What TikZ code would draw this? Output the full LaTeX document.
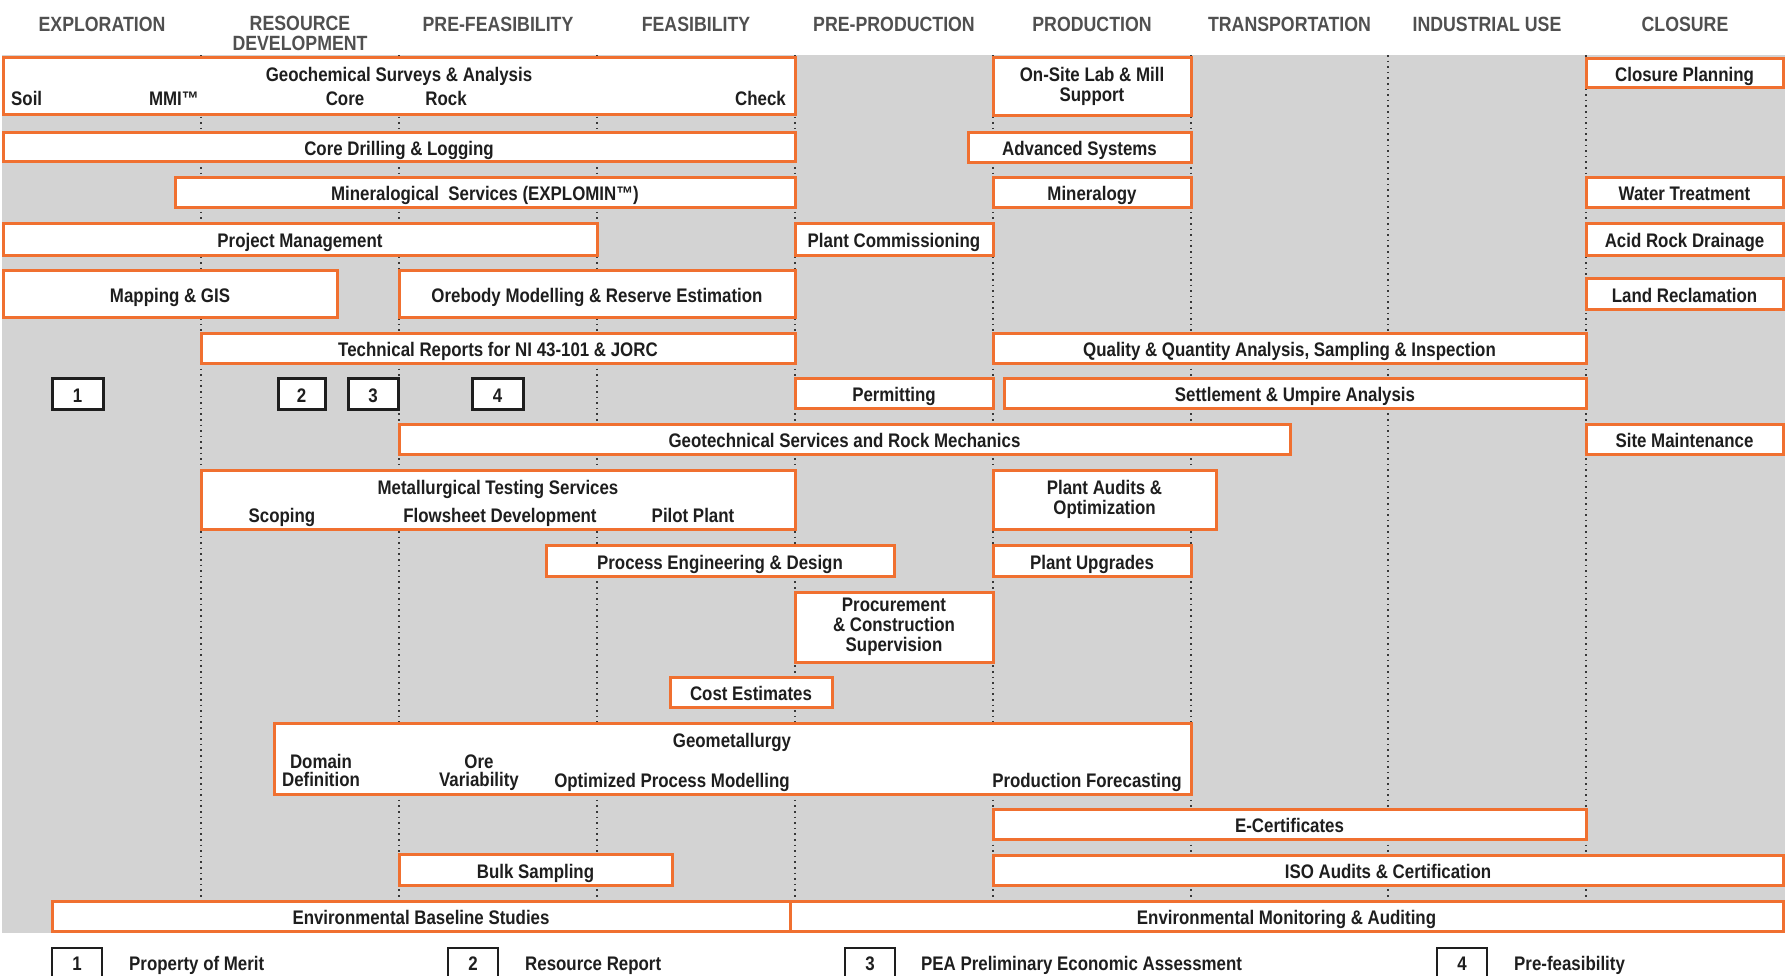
\documentclass[tikz,border=0pt]{standalone}
\usepackage{fontspec}
\setmainfont{Liberation Sans}[FakeStretch=0.86]
\definecolor{orng}{RGB}{240,112,48}
\definecolor{bgg}{RGB}{211,211,211}
\definecolor{hdrg}{RGB}{80,80,80}
\definecolor{ink}{RGB}{30,30,30}
\newcommand\bxfont{\fontsize{19.7}{20}\selectfont\bfseries}
\newcommand\hdfont{\fontsize{20.7}{20}\selectfont\bfseries}
\tikzset{
  box/.style={draw=orng, line width=3bp, fill=white, inner sep=0pt, outer sep=0pt,
    text=ink, font=\bxfont, text height=17bp, text depth=0pt},
  mbox/.style={text height={}, text depth={}, align=center},
  numbox/.style={draw=ink},
  legbox/.style={draw=ink, line width=1.5bp, text height=14bp, text depth=10bp},
  lbl/.style={inner sep=0pt, text=ink, font=\bxfont, anchor=base},
  sublbl/.style={inner sep=0pt, text=ink, font={\fontsize{19.7}{18}\selectfont\bfseries},
    align=center, anchor=south, text depth=0pt},
  hdr/.style={inner sep=0pt, text=hdrg, font=\hdfont, anchor=base},
  gridline/.style={draw={rgb,255:red,55;green,55;blue,55}, line width=1.6bp, dash pattern=on 1.6bp off 4bp}
}
\newcommand\Bx[7][]{\node[box,#1,anchor=north west,minimum width={#5bp-#3bp},minimum height={#6bp-#4bp}] (#2) at (#3,#4) {#7};}
\begin{document}
\begin{tikzpicture}[x=1bp,y=-1bp]
\useasboundingbox (0,0) rectangle (1785,975);
\clip (0,0) rectangle (1785,975);
\fill[bgg] (2,55) rectangle (1785,933);
\foreach \gx in {201,399,597,795,993,1191,1388,1586} \draw[gridline] (\gx,55) -- (\gx,933);
% headers
\node[hdr] (h0) at (102,31) {EXPLORATION};
\node[hdr,anchor=north,align=center] (h1) at (300,16) {RESOURCE\\DEVELOPMENT};
\node[hdr] (h2) at (498,31) {PRE-FEASIBILITY};
\node[hdr] (h3) at (696,31) {FEASIBILITY};
\node[hdr] (h4) at (894,31) {PRE-PRODUCTION};
\node[hdr] (h5) at (1092,31) {PRODUCTION};
\node[hdr] (h6) at (1289.5,31) {TRANSPORTATION};
\node[hdr] (h7) at (1487,31) {INDUSTRIAL USE};
\node[hdr] (h8) at (1685,31) {CLOSURE};
% geochemical
\Bx{geo}{3}{57}{795}{114}{}
\node[lbl] (geoT) at (399,81) {Geochemical Surveys \& Analysis};
\node[lbl,anchor=base west] (soil) at (11,105) {Soil};
\node[lbl,anchor=base east] (mmi) at (199,105) {MMI™};
\node[lbl] (core) at (345,105) {Core};
\node[lbl] (rock) at (446,105) {Rock};
\node[lbl,anchor=base east] (check) at (786,105) {Check};
% left / centre boxes
\Bx{drill}{3}{132}{795}{161}{Core Drilling \& Logging}
\Bx{minsvc}{175}{177}{795}{207}{Mineralogical\ \ Services (EXPLOMIN™)}
\Bx{pm}{3}{223}{597}{255}{Project Management}
\Bx{gis}{3}{270}{337}{317}{Mapping \& GIS}
\Bx{ore}{399}{270}{795}{317}{Orebody Modelling \& Reserve Estimation}
\Bx{tech}{201}{333}{795}{363}{Technical Reports for NI 43-101 \& JORC}
\Bx[numbox]{n1}{52}{378}{103}{409}{1}
\Bx[numbox]{n2}{278}{378}{325}{409}{2}
\Bx[numbox]{n3}{348}{378}{398}{409}{3}
\Bx[numbox]{n4}{472}{378}{523}{409}{4}
\Bx{geotech}{399}{424}{1290}{454}{Geotechnical Services and Rock Mechanics}
\Bx{met}{201}{470}{795}{529}{}
\node[lbl] (metT) at (498,494) {Metallurgical Testing Services};
\node[lbl] (scop) at (282,522) {Scoping};
\node[lbl] (flow) at (500,522) {Flowsheet Development};
\node[lbl] (pilot) at (693,522) {Pilot Plant};
\Bx{proc}{546}{545}{894}{576}{Process Engineering \& Design}
\Bx[mbox]{pcs}{795}{592}{993}{662}{Procurement\\\& Construction\\Supervision}
\Bx{cost}{670}{677}{832}{707}{Cost Estimates}
\Bx{gmet}{274}{723}{1191}{794}{}
\node[lbl] (gmetT) at (732,747) {Geometallurgy};
\node[sublbl] (dom) at (321,787) {Domain\\Definition};
\node[sublbl] (orev) at (479,787) {Ore\\Variability};
\node[lbl] (opm) at (672,787) {Optimized Process Modelling};
\node[lbl] (pf) at (1087,787) {Production Forecasting};
\Bx{ecert}{993}{809}{1586}{839}{E-Certificates}
\Bx{bulk}{399}{854}{672}{885}{Bulk Sampling}
\Bx{iso}{993}{855}{1783}{885}{ISO Audits \& Certification}
\Bx{ebs}{52}{901}{790}{931}{Environmental Baseline Studies}
\Bx{ema}{790}{901}{1783}{931}{Environmental Monitoring \& Auditing}
% right boxes
\Bx[mbox]{lab}{993}{57}{1191}{115}{On-Site Lab \& Mill\\Support}
\Bx{closp}{1586}{58}{1783}{87}{Closure Planning}
\Bx{adv}{968}{132}{1191}{162}{Advanced Systems}
\Bx{minlg}{993}{177}{1191}{207}{Mineralogy}
\Bx{water}{1586}{177}{1783}{207}{Water Treatment}
\Bx{comm}{795}{223}{993}{255}{Plant Commissioning}
\Bx{ard}{1586}{223}{1783}{255}{Acid Rock Drainage}
\Bx{land}{1586}{278}{1783}{309}{Land Reclamation}
\Bx{qq}{993}{333}{1586}{363}{Quality \& Quantity Analysis, Sampling \& Inspection}
\Bx{permit}{795}{378}{993}{408}{Permitting}
\Bx{settle}{1004}{378}{1586}{408}{Settlement \& Umpire Analysis}
\Bx{site}{1586}{424}{1783}{454}{Site Maintenance}
\Bx[mbox]{audit}{993}{470}{1216}{529}{Plant Audits \&\\Optimization}
\Bx{upg}{993}{545}{1191}{576}{Plant Upgrades}
% legend
\Bx[legbox]{l1}{52}{948}{102}{988}{1}
\Bx[legbox]{l2}{448}{948}{498}{988}{2}
\Bx[legbox]{l3}{845}{948}{895}{988}{3}
\Bx[legbox]{l4}{1437}{948}{1487}{988}{4}
\node[lbl,anchor=base west] (t1) at (129,970) {Property of Merit};
\node[lbl,anchor=base west] (t2) at (525,970) {Resource Report};
\node[lbl,anchor=base west] (t3) at (921,970) {PEA Preliminary Economic Assessment};
\node[lbl,anchor=base west] (t4) at (1514,970) {Pre-feasibility};
\end{tikzpicture}
\end{document}
